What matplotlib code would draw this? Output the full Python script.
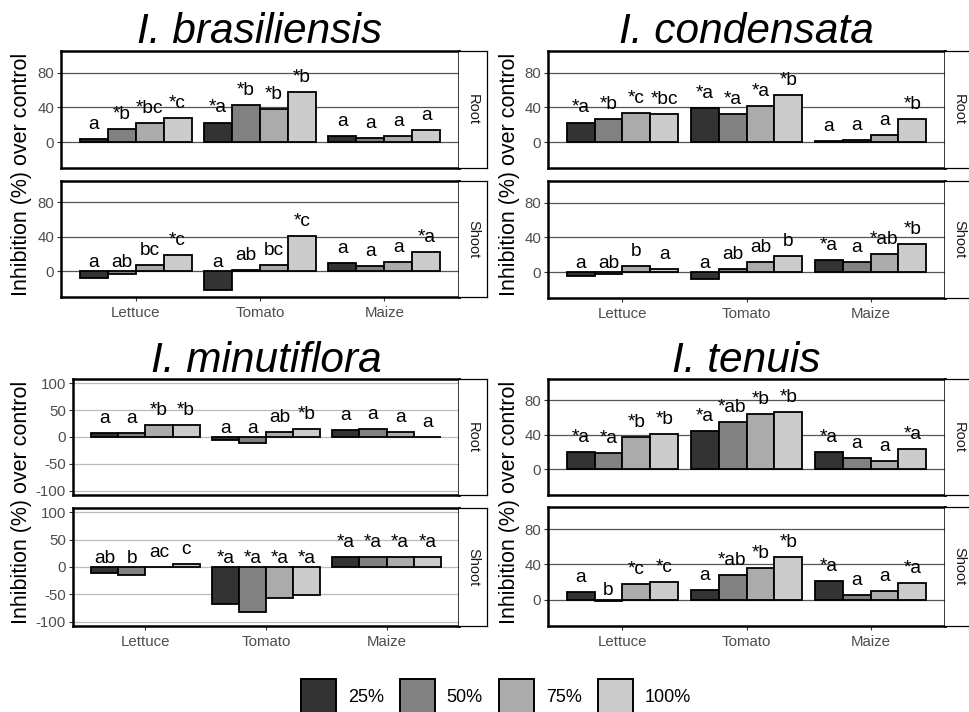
import matplotlib.pyplot as plt
import numpy as np
from matplotlib.patches import Patch

plt.rcParams['font.family'] = ['Liberation Sans', 'DejaVu Sans']

W, H = 969, 712

crops = ['Lettuce', 'Tomato', 'Maize']
doses = ['25%', '50%', '75%', '100%']
fills = ['#333333', '#818181', '#ABABAB', '#CCCCCC']

# --- data: rows = crops (Lettuce, Tomato, Maize), columns = doses ---
bras_root = [[4, 15.5, 21.5, 28], [22.5, 43, 38, 58], [6.5, 4.5, 7, 14]]
bras_root_lab = [['a', '*b', '*bc', '*c'], ['*a', '*b', '*b', '*b'], ['a', 'a', 'a', 'a']]
bras_shoot = [[-8, -3.5, 7, 19], [-22, 1.5, 7, 40.5], [9, 6, 10.5, 22.5]]
bras_shoot_lab = [['a', 'ab', 'bc', '*c'], ['a', 'ab', 'bc', '*c'], ['a', 'a', 'a', '*a']]

cond_root = [[22.5, 26.5, 34, 32.5], [39, 32.5, 41, 54.5], [0.8, 2.3, 8.5, 26.5]]
cond_root_lab = [['*a', '*b', '*c', '*bc'], ['*a', '*a', '*a', '*b'], ['a', 'a', 'a', '*b']]
cond_shoot = [[-4.5, -2, 7, 3], [-8, 3.8, 12, 19], [14, 11.5, 20.5, 32]]
cond_shoot_lab = [['a', 'ab', 'b', 'a'], ['a', 'ab', 'ab', 'b'], ['*a', 'a', '*ab', '*b']]

minu_root = [[8, 7, 22, 23], [-5.5, -10.5, 8.5, 15], [13.5, 14, 8.5, 0.5]]
minu_root_lab = [['a', 'a', '*b', '*b'], ['a', 'a', 'ab', '*b'], ['a', 'a', 'a', 'a']]
minu_shoot = [[-10.5, -15, 0.5, 6], [-68, -82, -56, -51], [18.5, 19, 18, 18.5]]
minu_shoot_lab = [['ab', 'b', 'ac', 'c'], ['*a', '*a', '*a', '*a'], ['*a', '*a', '*a', '*a']]

tenu_root = [[19.5, 19, 37.5, 41.5], [44, 54.5, 64, 67], [20.5, 12.5, 9.5, 24]]
tenu_root_lab = [['*a', '*a', '*b', '*b'], ['*a', '*ab', '*b', '*b'], ['*a', 'a', 'a', '*a']]
tenu_shoot = [[8.8, -1.2, 17.5, 20], [10.5, 27.5, 36, 48], [20.5, 5.5, 9.5, 18.5]]
tenu_shoot_lab = [['a', 'b', '*c', '*c'], ['a', '*ab', '*b', '*b'], ['*a', 'a', 'a', '*a']]


def box(x0, y0, x1, y1):
    return [x0 / W, 1 - y1 / H, (x1 - x0) / W, (y1 - y0) / H]


def panel(fig, rect, vals, labs, ylim, yticks, gridcol, strip, show_x):
    ax = fig.add_axes(box(*rect))
    x = np.arange(1, 4)
    bw = 0.9 / 4
    vals = np.array(vals)
    for j in range(4):
        xs = x + (j - 1.5) * bw
        ax.bar(xs, vals[:, j], width=bw, color=fills[j], edgecolor='black',
               linewidth=1.3, zorder=2)
        for i in range(3):
            v = vals[i, j]
            off = 7.2 if v >= 0 else 3.0
            ax.annotate(labs[i][j], (xs[i], max(v, 0)), xytext=(0, off),
                        textcoords='offset points', ha='center', va='baseline',
                        fontsize=13.8, color='black', zorder=3)
    ax.set_xlim(0.4, 3.6)
    ax.set_ylim(*ylim)
    ax.set_yticks(yticks)
    ax.set_yticklabels([str(t) for t in yticks])
    ax.yaxis.grid(True, color=gridcol, linewidth=0.9)
    ax.set_axisbelow(True)
    ax.set_xticks(x)
    if show_x:
        ax.set_xticklabels(crops)
        ax.tick_params(axis='x', length=3, color='#333333', labelsize=10.8,
                       labelcolor='#4D4D4D', pad=3.5, width=0.8)
    else:
        ax.set_xticklabels([])
        ax.tick_params(axis='x', length=0)
    ax.tick_params(axis='y', length=3, color='#333333', labelsize=10.8,
                   labelcolor='#4D4D4D', pad=2, width=0.8)
    for s in ax.spines.values():
        s.set_linewidth(1.8)
        s.set_color('black')
    # facet strip on the right
    sx = fig.add_axes(box(rect[2], rect[1], rect[2] + 28, rect[3]))
    sx.set_xticks([])
    sx.set_yticks([])
    for s in sx.spines.values():
        s.set_linewidth(0.9)
    sx.spines['left'].set_visible(False)
    sx.text(0.5, 0.5, strip, rotation=270, ha='center', va='center',
            fontsize=10.5, color='#1A1A1A', transform=sx.transAxes)
    return ax


def species(fig, name, x0, x1, root_y, shoot_y, title_base, ylab_x, ylim, yticks,
            gridcol, root, root_lab, shoot, shoot_lab):
    panel(fig, (x0, root_y[0], x1, root_y[1]), root, root_lab, ylim, yticks,
          gridcol, 'Root', False)
    panel(fig, (x0, shoot_y[0], x1, shoot_y[1]), shoot, shoot_lab, ylim, yticks,
          gridcol, 'Shoot', True)
    fig.text((x0 + x1) / 2 / W, 1 - title_base / H, name, fontsize=30.5,
             style='italic', ha='center', va='baseline')
    fig.text(ylab_x / W, 1 - (root_y[0] + shoot_y[1]) / 2 / H,
             'Inhibition (%) over control', rotation=90, fontsize=15.5,
             ha='center', va='center')


fig = plt.figure(figsize=(W / 100, H / 100), dpi=100)

species(fig, 'I. brasiliensis', 61, 459, (51, 168), (181, 297), 43, 22,
        (-30, 105), [0, 40, 80], '#555555',
        bras_root, bras_root_lab, bras_shoot, bras_shoot_lab)
species(fig, 'I. condensata', 548, 945, (51, 168), (181, 298), 43, 510,
        (-30, 105), [0, 40, 80], '#555555',
        cond_root, cond_root_lab, cond_shoot, cond_shoot_lab)
species(fig, 'I. minutiflora', 73, 459, (379, 495), (508, 626), 372, 22,
        (-108, 108), [-100, -50, 0, 50, 100], '#BBBBBB',
        minu_root, minu_root_lab, minu_shoot, minu_shoot_lab)
species(fig, 'I. tenuis', 548, 945, (379, 495), (507, 626), 372, 510,
        (-30, 105), [0, 40, 80], '#555555',
        tenu_root, tenu_root_lab, tenu_shoot, tenu_shoot_lab)

handles = [Patch(facecolor=c, edgecolor='black', linewidth=1.4) for c in fills]
fig.legend(handles, doses, loc='upper left', bbox_to_anchor=(301 / W, 1 - 679 / H),
           ncol=4, frameon=False, fontsize=13, handlelength=1.94, handleheight=2.6,
           handletextpad=0.65, columnspacing=0.9, borderpad=0, borderaxespad=0)

fig.savefig('out.png', dpi=100)
